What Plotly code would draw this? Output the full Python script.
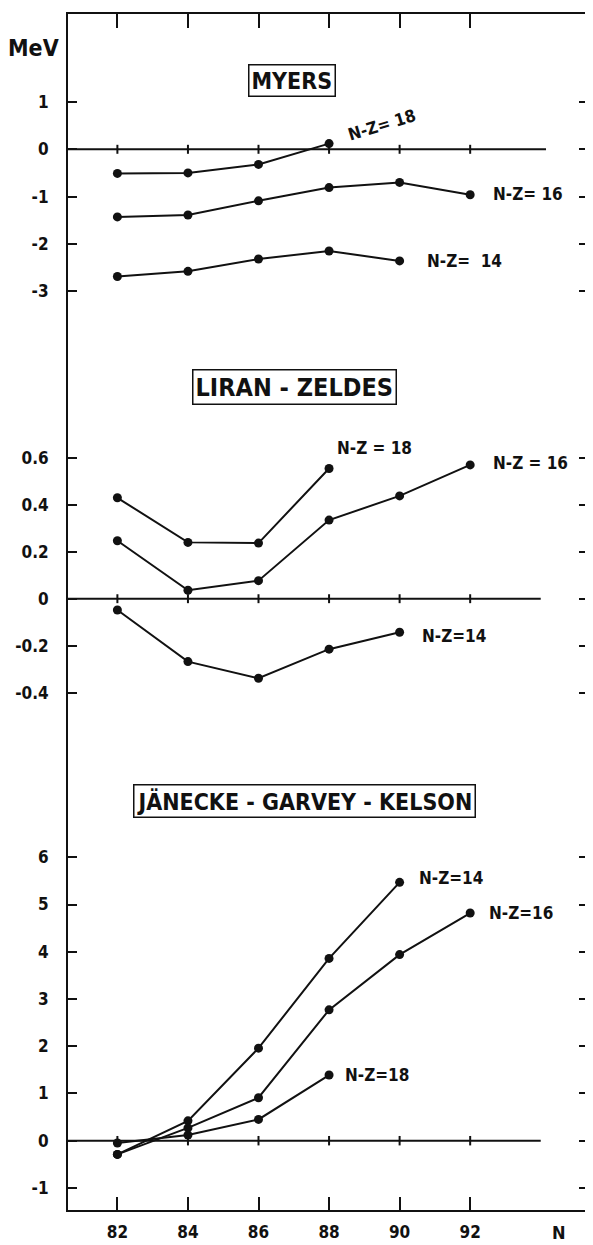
import plotly.graph_objects as go

# ---------------- data ----------------
N_ticks = [82, 84, 86, 88, 90, 92]
N_tick_text = ["82", "84", "86", "88", "90", "92"]

# MYERS
myers_N18 = [82, 84, 86, 88]
myers_V18 = [-0.51, -0.50, -0.32, 0.12]
myers_N16 = [82, 84, 86, 88, 90, 92]
myers_V16 = [-1.43, -1.39, -1.09, -0.81, -0.70, -0.96]
myers_N14 = [82, 84, 86, 88, 90]
myers_V14 = [-2.69, -2.58, -2.32, -2.15, -2.36]
myers_yticks = [1, 0, -1, -2, -3]
myers_yticktext = ["1", "0", "-1", "-2", "-3"]

# LIRAN - ZELDES
lz_N18 = [82, 84, 86, 88]
lz_V18 = [0.43, 0.24, 0.237, 0.555]
lz_N16 = [82, 84, 86, 88, 90, 92]
lz_V16 = [0.247, 0.036, 0.077, 0.335, 0.438, 0.57]
lz_N14 = [82, 84, 86, 88, 90]
lz_V14 = [-0.048, -0.268, -0.339, -0.215, -0.143]
lz_yticks = [0.6, 0.4, 0.2, 0, -0.2, -0.4]
lz_yticktext = ["0.6", "0.4", "0.2", "0", "-0.2", "-0.4"]

# JAENECKE - GARVEY - KELSON
jgk_N14 = [82, 84, 86, 88, 90]
jgk_V14 = [-0.29, 0.42, 1.96, 3.86, 5.47]
jgk_N16 = [82, 84, 86, 88, 90, 92]
jgk_V16 = [-0.29, 0.27, 0.91, 2.77, 3.94, 4.82]
jgk_N18 = [82, 84, 86, 88]
jgk_V18 = [-0.05, 0.12, 0.45, 1.39]
jgk_yticks = [6, 5, 4, 3, 2, 1, 0, -1]
jgk_yticktext = ["6", "5", "4", "3", "2", "1", "0", "-1"]

# ---------------- styling ----------------
FONT = "DejaVu Sans Condensed, Liberation Sans Narrow, Roboto, sans-serif"
BLACK = "#111111"
LW = 2

fig = go.Figure()


def add_series(xs, ys, yaxis):
    fig.add_trace(go.Scatter(
        x=xs, y=ys, yaxis=yaxis, mode="lines+markers",
        line=dict(color=BLACK, width=LW),
        marker=dict(color=BLACK, size=9),
        showlegend=False, hoverinfo="skip"))


def add_zero_ticks(yaxis, half):
    # short tick marks crossing the zero line at each N (half = half-length in axis units)
    xs, ys = [], []
    for n in N_ticks:
        xs += [n, n, None]
        ys += [-half, half, None]
    fig.add_trace(go.Scatter(
        x=xs, y=ys, yaxis=yaxis, mode="lines",
        line=dict(color=BLACK, width=2),
        showlegend=False, hoverinfo="skip"))


# Myers -> y3, Liran-Zeldes -> y2, JGK -> y
add_series(myers_N18, myers_V18, "y3")
add_series(myers_N16, myers_V16, "y3")
add_series(myers_N14, myers_V14, "y3")
add_series(lz_N18, lz_V18, "y2")
add_series(lz_N16, lz_V16, "y2")
add_series(lz_N14, lz_V14, "y2")
add_series(jgk_N14, jgk_V14, "y")
add_series(jgk_N16, jgk_V16, "y")
add_series(jgk_N18, jgk_V18, "y")
add_zero_ticks("y3", 0.095)
add_zero_ticks("y2", 0.019)
add_zero_ticks("y", 0.10)

XR = [80.6, 95.34]

# zero lines (not spanning full width)
for yref, xend in (("y3", 94.15), ("y2", 94.0), ("y", 94.0)):
    fig.add_shape(type="line", xref="x", yref=yref, x0=XR[0], x1=xend,
                  y0=0, y1=0, line=dict(color=BLACK, width=LW), layer="below")

TICKFONT = dict(family=FONT, size=17, color=BLACK, weight="bold")

yax_common = dict(
    showline=True, linecolor=BLACK, linewidth=LW, mirror="ticks",
    ticks="inside", ticklen=9, tickwidth=2, tickcolor=BLACK,
    showgrid=False, zeroline=False, tickmode="array",
    tickfont=TICKFONT, ticklabelstandoff=14, fixedrange=True,
)

# the page body has an 8px margin: the figure is sized so that it ends at the window edge
fig.update_layout(
    width=585, height=1237,
    margin=dict(l=60, r=3, t=6, b=35),
    paper_bgcolor="white", plot_bgcolor="white",
    font=dict(family=FONT, color=BLACK),
    xaxis=dict(
        range=XR, anchor="y", showline=True, linecolor=BLACK, linewidth=LW,
        ticks="inside", ticklen=13, tickwidth=2, tickcolor=BLACK,
        tickmode="array", tickvals=N_ticks, ticktext=N_tick_text,
        tickfont=TICKFONT, ticklabelstandoff=6,
        showgrid=False, zeroline=False, fixedrange=True,
    ),
    xaxis2=dict(
        range=XR, overlaying="x", anchor="y3", side="top",
        showline=True, linecolor=BLACK, linewidth=LW,
        ticks="inside", ticklen=14, tickwidth=2, tickcolor=BLACK,
        tickmode="array", tickvals=N_ticks, showticklabels=False,
        showgrid=False, zeroline=False, fixedrange=True,
    ),
    yaxis=dict(domain=[0, 0.39716], range=[-1.4675, 8.59],
               tickvals=jgk_yticks, ticktext=jgk_yticktext, **yax_common),
    yaxis2=dict(domain=[0.39716, 0.73579], range=[-0.5807, 1.1449],
                tickvals=lz_yticks, ticktext=lz_yticktext, **yax_common),
    yaxis3=dict(domain=[0.73579, 1], range=[-3.82, 2.86],
                tickvals=myers_yticks, ticktext=myers_yticktext, **yax_common),
)

# invisible anchor trace for the top axis
fig.add_trace(go.Scatter(x=[XR[0]], y=[0], xaxis="x2", yaxis="y3",
                         mode="markers", marker=dict(opacity=0),
                         showlegend=False, hoverinfo="skip"))

# ---------------- annotations ----------------
def box_title(text, x, y, yref, size):
    fig.add_annotation(text=text, x=x, y=y, xref="x", yref=yref,
                       showarrow=False, xanchor="center", yanchor="middle",
                       font=dict(family=FONT, size=size, color=BLACK, weight="bold"),
                       bordercolor=BLACK, borderwidth=1.5, borderpad=2,
                       bgcolor="white")


box_title("MYERS", 86.94, 1.444, "y3", 23)
box_title("LIRAN - ZELDES", 87.03, 0.904, "y2", 25)
box_title("JÄNECKE - GARVEY - KELSON", 87.30, 7.203, "y", 23)


def label(text, x, y, yref, angle=0, xanchor="left"):
    fig.add_annotation(text=text, x=x, y=y, xref="x", yref=yref,
                       showarrow=False, xanchor=xanchor, yanchor="middle",
                       textangle=angle,
                       font=dict(family=FONT, size=17, color=BLACK, weight="bold"))


label("N-Z= 18", 89.49, 0.514, "y3", angle=-17, xanchor="center")
label("N-Z= 16", 92.60, -0.945, "y3")
label("N-Z=  14", 90.73, -2.36, "y3")
label("N-Z = 18", 88.18, 0.642, "y2")
label("N-Z = 16", 92.58, 0.578, "y2")
label("N-Z=14", 90.57, -0.159, "y2")
label("N-Z=14", 90.48, 5.562, "y")
label("N-Z=16", 92.49, 4.82, "y")
label("N-Z=18", 88.39, 1.391, "y")

fig.add_annotation(text="MeV", x=-0.066, y=0.9718, xref="paper", yref="paper",
                   showarrow=False, xanchor="center", yanchor="middle",
                   font=dict(family=FONT, size=23, color=BLACK, weight="bold"))
fig.add_annotation(text="N", x=94.52, y=-0.0185, xref="x", yref="paper",
                   showarrow=False, xanchor="center", yanchor="middle",
                   font=dict(family=FONT, size=18, color=BLACK, weight="bold"))

fig.write_html("out.html")
